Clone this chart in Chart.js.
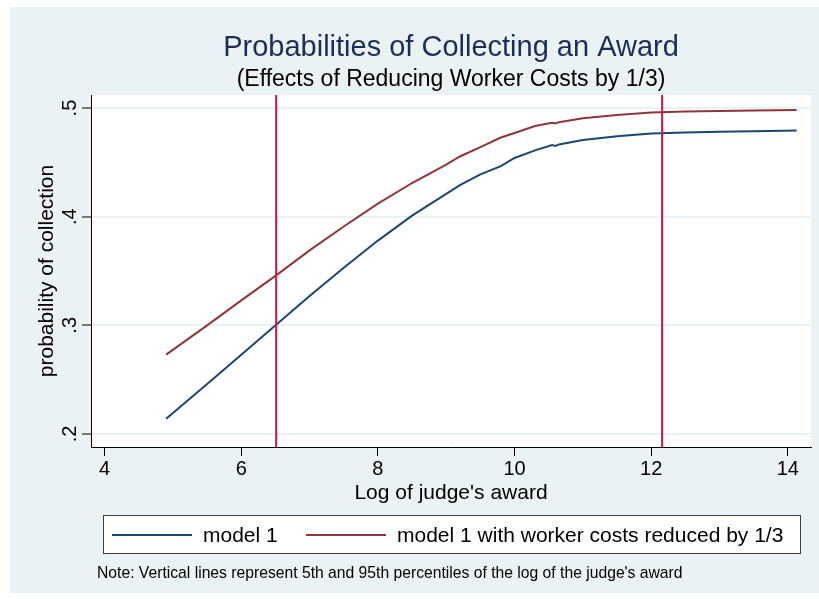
<!DOCTYPE html>
<html>
<head>
    <meta charset="UTF-8">
    <title>Probabilities of Collecting an Award</title>
    <script src="https://cdn.jsdelivr.net/npm/chart.js"></script>
    <style>
        body { margin: 0; background: #ffffff; }
        #awardChart { display: block; }
    </style>
</head>
<body>
<canvas id="awardChart" width="819" height="599"></canvas>
<script>
    // values
    var awardLog = [4.9, 5.5, 6.0, 6.51, 7.0, 7.5, 8.0, 8.5, 9.0, 9.2, 9.5, 9.8, 10.0, 10.3, 10.55, 10.6, 10.65, 11.0, 11.5, 12.0, 12.5, 13.0, 13.5, 14.13];
    var model1 = [0.214, 0.246, 0.273, 0.3005, 0.327, 0.353, 0.378, 0.401, 0.421, 0.429, 0.439, 0.4465, 0.454, 0.461, 0.466, 0.4652, 0.4665, 0.4705, 0.474, 0.4765, 0.4775, 0.4782, 0.4787, 0.4793];
    var model1Reduced = [0.273, 0.300, 0.323, 0.346, 0.369, 0.391, 0.412, 0.431, 0.448, 0.4554, 0.464, 0.4729, 0.477, 0.4835, 0.4865, 0.4858, 0.487, 0.4905, 0.4935, 0.496, 0.4968, 0.4973, 0.4978, 0.4983];
    var seriesNames = ['model 1', 'model 1 with worker costs reduced by 1/3'];
    var pctLines = [6.51, 12.16];   // 5th and 95th percentile
    var xTicks = [4, 6, 8, 10, 12, 14];
    var yTicks = [0.2, 0.3, 0.4, 0.5];
    var yTickLabels = ['.2', '.3', '.4', '.5'];

    var bgColor = '#eaf2f3';
    var fontName = '"Liberation Sans", Arial, sans-serif';

    function toPoints(xs, ys) {
        return xs.map(function (x, i) { return { x: x, y: ys[i] }; });
    }

    // grey panel + white plot region behind everything
    var backdrop = {
        id: 'backdrop',
        beforeDraw: function (chart) {
            var ctx = chart.ctx, a = chart.chartArea;
            ctx.save();
            ctx.fillStyle = '#ffffff';
            ctx.fillRect(0, 0, chart.width, chart.height);
            ctx.fillStyle = bgColor;
            ctx.fillRect(10, 7, chart.width - 10, 586);
            ctx.fillStyle = '#ffffff';
            ctx.fillRect(a.left, a.top, a.right - a.left, a.bottom - a.top);
            ctx.restore();
        }
    };

    // the two red percentile lines
    var percentileLines = {
        id: 'percentileLines',
        afterDatasetsDraw: function (chart) {
            var ctx = chart.ctx, a = chart.chartArea, xs = chart.scales.x;
            ctx.save();
            ctx.strokeStyle = '#d3173f';
            ctx.lineWidth = 2;
            pctLines.forEach(function (v) {
                var px = xs.getPixelForValue(v);
                ctx.beginPath();
                ctx.moveTo(px, a.top);
                ctx.lineTo(px, a.bottom);
                ctx.stroke();
            });
            ctx.restore();
        }
    };

    // titles, rotated y labels, legend box and note
    var textBits = {
        id: 'textBits',
        afterDraw: function (chart) {
            var ctx = chart.ctx, a = chart.chartArea, ys = chart.scales.y;
            var cx = (a.left + a.right) / 2;
            ctx.save();
            ctx.textAlign = 'center';
            ctx.textBaseline = 'alphabetic';
            ctx.fillStyle = '#1c2d5a';
            ctx.font = '29px ' + fontName;
            ctx.fillText('Probabilities of Collecting an Award', cx, 56);
            ctx.fillStyle = '#000000';
            ctx.font = '23px ' + fontName;
            ctx.fillText('(Effects of Reducing Worker Costs by 1/3)', cx, 86);

            // x axis title
            ctx.font = '21px ' + fontName;
            ctx.fillText("Log of judge's award", cx, 499);

            // y tick labels, rotated like stata does
            ctx.font = '20px ' + fontName;
            ctx.textBaseline = 'middle';
            yTicks.forEach(function (v, i) {
                ctx.save();
                ctx.translate(70, ys.getPixelForValue(v));
                ctx.rotate(-Math.PI / 2);
                ctx.fillText(yTickLabels[i], 0, 0);
                ctx.restore();
            });
            ctx.save();
            ctx.font = '21px ' + fontName;
            ctx.translate(47, (a.top + a.bottom) / 2);
            ctx.rotate(-Math.PI / 2);
            ctx.fillText('probability of collection', 0, 0);
            ctx.restore();

            // legend
            ctx.fillStyle = '#ffffff';
            ctx.fillRect(103, 515, 697, 38);
            ctx.strokeStyle = '#404040';
            ctx.lineWidth = 1;
            ctx.strokeRect(103.5, 515.5, 697, 38);
            var starts = [112, 306];
            ctx.font = '21px ' + fontName;
            ctx.textAlign = 'left';
            chart.data.datasets.forEach(function (ds, i) {
                ctx.strokeStyle = ds.borderColor;
                ctx.lineWidth = 2;
                ctx.beginPath();
                ctx.moveTo(starts[i], 535);
                ctx.lineTo(starts[i] + 80, 535);
                ctx.stroke();
                ctx.fillStyle = '#000000';
                ctx.fillText(ds.label, starts[i] + 91, 536);
            });

            ctx.font = '15.7px ' + fontName;
            ctx.textBaseline = 'alphabetic';
            ctx.fillText("Note: Vertical lines represent 5th and 95th percentiles of the log of the judge's award", 97, 578);
            ctx.restore();
        }
    };

    var ctx = document.getElementById('awardChart').getContext('2d');
    var awardChart = new Chart(ctx, {
        type: 'line',
        data: {
            datasets: [{
                label: seriesNames[0],
                data: toPoints(awardLog, model1),
                borderColor: '#1a476f',
                borderWidth: 2,
                pointRadius: 0,
                fill: false
            }, {
                label: seriesNames[1],
                data: toPoints(awardLog, model1Reduced),
                borderColor: '#90353b',
                borderWidth: 2,
                pointRadius: 0,
                fill: false
            }]
        },
        options: {
            responsive: false,
            animation: false,
            devicePixelRatio: 1,
            layout: { padding: { left: 0, top: 95, right: 8, bottom: 122 } },
            plugins: {
                legend: { display: false },
                tooltip: { enabled: false }
            },
            scales: {
                x: {
                    type: 'linear',
                    min: 3.8,
                    max: 14.34,
                    afterBuildTicks: function (scale) {
                        scale.ticks = xTicks.map(function (v) { return { value: v }; });
                    },
                    afterFit: function (scale) { scale.height = 30; },
                    ticks: {
                        color: '#000000',
                        padding: 1,
                        maxRotation: 0,
                        font: { family: fontName, size: 20 }
                    },
                    grid: {
                        drawOnChartArea: false,
                        tickLength: 9,
                        tickColor: '#000000',
                        tickWidth: 1
                    },
                    border: { color: '#000000', width: 1 }
                },
                y: {
                    min: 0.188,
                    max: 0.512,
                    afterBuildTicks: function (scale) {
                        scale.ticks = yTicks.map(function (v) { return { value: v }; });
                    },
                    afterFit: function (scale) { scale.width = 91; },
                    ticks: { display: false },
                    grid: {
                        color: bgColor,
                        lineWidth: 2,
                        tickLength: 9,
                        tickColor: '#000000',
                        tickWidth: 1
                    },
                    border: { color: '#000000', width: 1 }
                }
            }
        },
        plugins: [backdrop, percentileLines, textBits]
    });
</script>
</body>
</html>
